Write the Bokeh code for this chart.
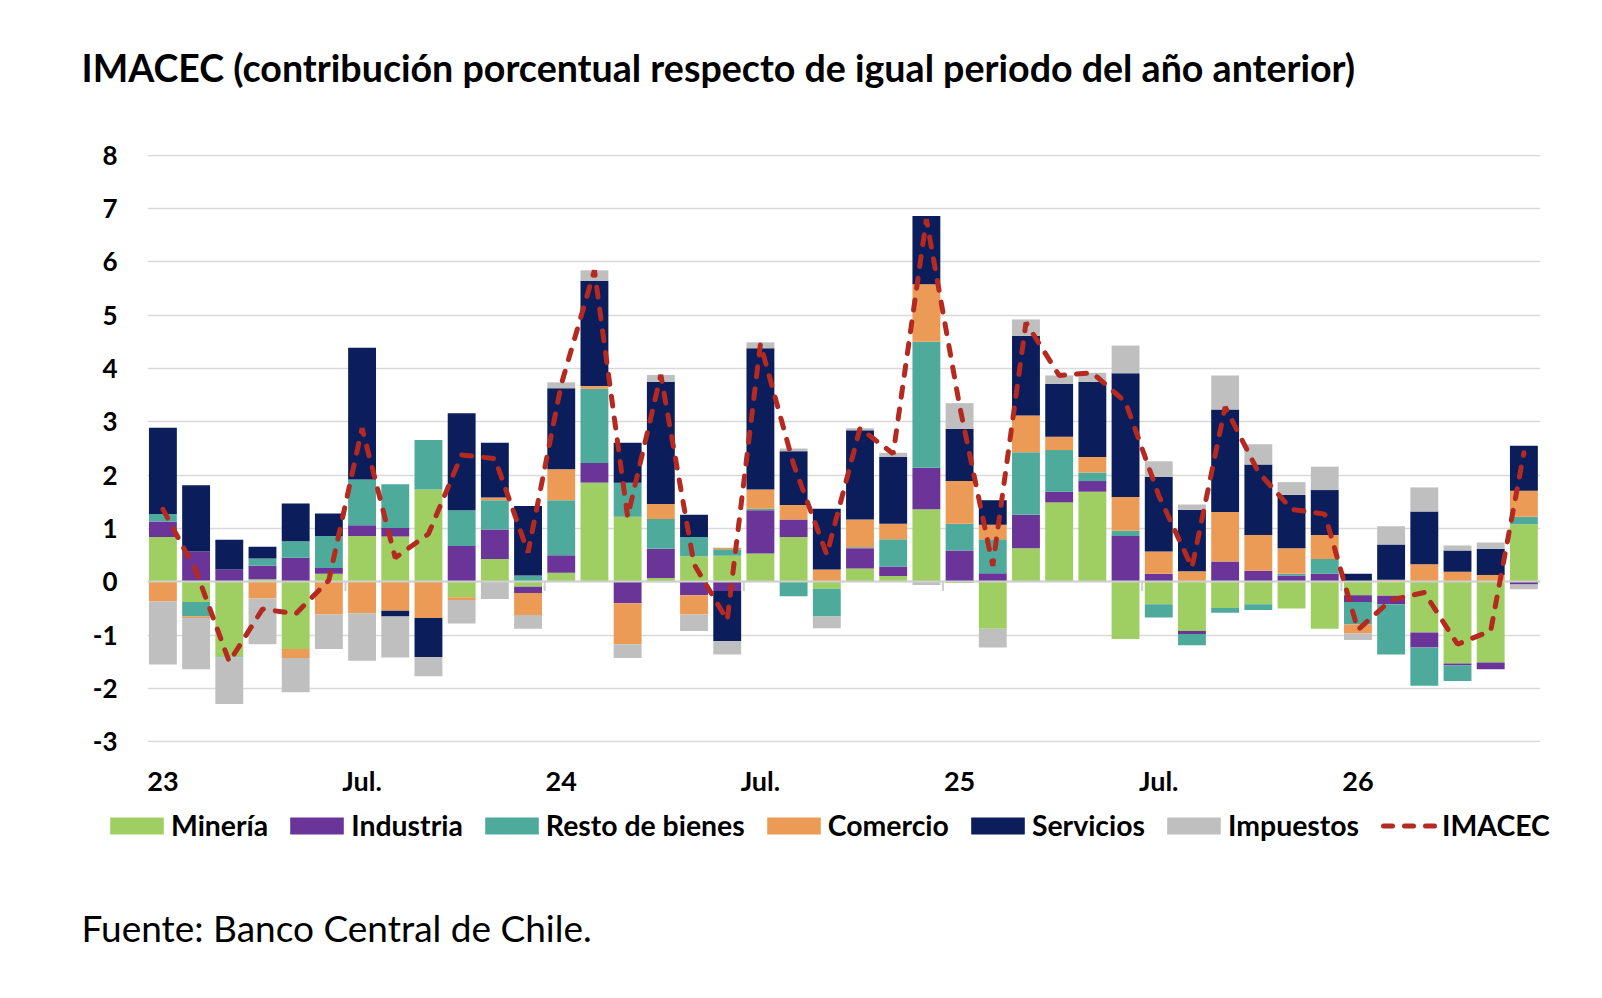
import numpy as np
from bokeh.plotting import figure
from bokeh.layouts import column
from bokeh.models import (ColumnDataSource, Legend, LegendItem, Label, Range1d, FixedTicker)
from bokeh.embed import file_html
from bokeh.resources import INLINE

# ---------------- data (contribución porcentual, pp) ----------------
months = ["ene-23", "feb-23", "mar-23", "abr-23", "may-23", "jun-23", "jul-23", "ago-23", "sep-23",
          "oct-23", "nov-23", "dic-23", "ene-24", "feb-24", "mar-24", "abr-24", "may-24", "jun-24",
          "jul-24", "ago-24", "sep-24", "oct-24", "nov-24", "dic-24", "ene-25", "feb-25", "mar-25",
          "abr-25", "may-25", "jun-25", "jul-25", "ago-25", "sep-25", "oct-25", "nov-25", "dic-25",
          "ene-26", "feb-26", "mar-26", "abr-26", "may-26", "jun-26"]

mineria = [0.84, -0.38, -1.40, 0.05, -1.26, 0.15, 0.86, 0.85, 1.73, -0.29, 0.43, -0.09, 0.17, 1.86,
           1.22, 0.07, 0.48, 0.49, 0.53, 0.84, -0.13, 0.25, 0.11, 1.36, -0.02, -0.88, 0.63, 1.49,
           1.69, -1.07, -0.42, -0.92, -0.49, -0.42, -0.50, -0.88, -0.25, -0.26, -0.95, -1.53, -1.51, 1.08]
industria = [0.29, 0.57, 0.23, 0.25, 0.45, 0.11, 0.20, 0.16, 0.00, 0.67, 0.55, -0.12, 0.33, 0.37,
             -0.40, 0.55, -0.25, -0.17, 0.81, 0.33, 0.00, 0.38, 0.18, 0.78, 0.59, 0.16, 0.63, 0.20,
             0.20, 0.86, 0.15, -0.06, 0.38, 0.21, 0.12, 0.15, -0.13, -0.16, -0.28, -0.04, -0.13, -0.05]
resto = [0.14, -0.27, -0.02, 0.14, 0.31, 0.60, 0.86, 0.82, 0.93, 0.67, 0.55, 0.12, 1.03, 1.39,
         0.64, 0.56, 0.36, 0.12, 0.03, -0.27, -0.52, 0.02, 0.51, 2.36, 0.50, 0.64, 1.17, 0.78,
         0.16, 0.10, -0.25, -0.21, -0.09, -0.11, 0.03, 0.28, -0.42, -0.94, -0.72, -0.29, 0.00, 0.14]
comercio = [-0.37, -0.03, 0.00, -0.31, -0.17, -0.61, -0.59, -0.54, -0.68, -0.05, 0.05, -0.41, 0.58, 0.05,
            -0.77, 0.28, -0.36, 0.03, 0.36, 0.27, 0.23, 0.52, 0.29, 1.08, 0.80, 0.27, 0.69, 0.25,
            0.29, 0.63, 0.42, 0.20, 0.93, 0.67, 0.48, 0.45, -0.17, 0.04, 0.33, 0.19, 0.13, 0.49]
servicios = [1.62, 1.24, 0.56, 0.22, 0.71, 0.42, 2.47, -0.11, -0.73, 1.82, 1.03, 1.30, 1.52, 1.97,
             0.75, 2.29, 0.42, -0.94, 2.65, 1.01, 1.14, 1.67, 1.25, 1.28, 0.98, 0.46, 1.49, 0.99,
             1.41, 2.32, 1.40, 1.15, 1.92, 1.32, 1.00, 0.84, 0.15, 0.66, 0.99, 0.40, 0.49, 0.84]
impuestos = [-1.18, -0.96, -0.87, -0.86, -0.64, -0.65, -0.89, -0.77, -0.36, -0.44, -0.32, -0.26, 0.11, 0.20,
             -0.26, 0.13, -0.31, -0.25, 0.11, 0.05, -0.22, 0.04, 0.08, -0.06, 0.48, -0.35, 0.31, 0.16,
             0.17, 0.52, 0.29, 0.10, 0.64, 0.38, 0.24, 0.44, -0.12, 0.34, 0.45, 0.09, 0.12, -0.09]
imacec = [1.36, 0.20, -1.50, -0.51, -0.60, 0.03, 2.88, 0.45, 0.90, 2.38, 2.31, 0.55, 3.70, 5.84,
          1.22, 3.88, 0.33, -0.72, 4.46, 2.20, 0.51, 2.88, 2.40, 6.80, 3.30, 0.30, 4.86, 3.87,
          3.92, 3.37, 1.62, 0.27, 3.28, 2.06, 1.36, 1.27, -0.90, -0.34, -0.20, -1.17, -0.92, 2.42]

series_names = ["Minería", "Industria", "Resto de bienes", "Comercio", "Servicios", "Impuestos"]
tick_index = [0, 6, 12, 18, 24, 30, 36]
tick_labels = ["23", "Jul.", "24", "Jul.", "25", "Jul.", "26"]
y_ticks = [-3, -2, -1, 0, 1, 2, 3, 4, 5, 6, 7, 8]
y_tick_labels = ["-3", "-2", "-1", "0", "1", "2", "3", "4", "5", "6", "7", "8"]
halfyear_marks = [5.5, 11.5, 17.5, 23.5, 29.5, 35.5]
title_text = "IMACEC (contribución porcentual respecto de igual periodo del año anterior)"
source_text = "Fuente: Banco Central de Chile."

# ---------------- styles ----------------
colors = ["#9FCF62", "#6A3499", "#4EAB9B", "#EC9B57", "#0B1D5B", "#BFBFBF"]
line_color = "#B42A20"
grid_color = "#D9D9D9"
FONT = "Lato"
W = 1586
H_HEAD = 120
H_CHART = 680
H_FOOT = 182
DASH = "10 12"


def blank_figure(height, x_range=(0, 1), y_range=(0, 1)):
    fig = figure(width=W, height=height, output_backend="svg", toolbar_location=None,
                 x_range=Range1d(*x_range), y_range=Range1d(*y_range),
                 x_axis_type=None, y_axis_type=None, frame_align=False,
                 min_border_left=0, min_border_right=0, min_border_top=0, min_border_bottom=0)
    fig.outline_line_color = None
    fig.xgrid.visible = False
    fig.ygrid.visible = False
    fig.border_fill_color = "white"
    fig.background_fill_color = "white"
    return fig


x = np.arange(len(months))

# ---------------- header: title ----------------
h = blank_figure(H_HEAD)
h.add_layout(Label(x=81, y=53.5, x_units="screen", y_units="screen", text=title_text,
                   text_font=FONT, text_font_style="bold", text_font_size="37.6px",
                   text_color="black", text_baseline="middle", text_align="left"))

# ---------------- chart ----------------
p = figure(width=W, height=H_CHART, output_backend="svg", toolbar_location=None,
           x_range=Range1d(-0.464, 41.5), y_range=Range1d(-3.012, 8.012), frame_align=False,
           min_border_left=147, min_border_right=46, min_border_top=34, min_border_bottom=58)
p.outline_line_color = None
p.background_fill_color = "white"
p.border_fill_color = "white"

p.xgrid.grid_line_color = None
p.ygrid.grid_line_color = grid_color
p.ygrid.grid_line_width = 1.5
p.ygrid.ticker = FixedTicker(ticks=y_ticks)

p.yaxis.ticker = FixedTicker(ticks=y_ticks)
p.yaxis.major_label_overrides = {t: s for t, s in zip(y_ticks, y_tick_labels)}
p.yaxis.axis_line_color = None
p.yaxis.major_tick_line_color = None
p.yaxis.minor_tick_line_color = None
p.yaxis.major_tick_out = 0
p.yaxis.major_label_standoff = 30
p.yaxis.major_label_text_font = FONT
p.yaxis.major_label_text_font_style = "bold"
p.yaxis.major_label_text_font_size = "26px"
p.yaxis.major_label_text_color = "black"

p.xaxis.ticker = FixedTicker(ticks=tick_index)
p.xaxis.major_label_overrides = {i: t for i, t in zip(tick_index, tick_labels)}
p.xaxis.axis_line_color = None
p.xaxis.major_tick_line_color = None
p.xaxis.minor_tick_line_color = None
p.xaxis.major_tick_out = 0
p.xaxis.major_label_standoff = 21
p.xaxis.major_label_text_font = FONT
p.xaxis.major_label_text_font_style = "bold"
p.xaxis.major_label_text_font_size = "27px"
p.xaxis.major_label_text_color = "black"

# stacked bars (positive and negative parts stacked separately)
pos_base = np.zeros(len(x))
neg_base = np.zeros(len(x))
bar_sources = []
for name, vals, col in zip(series_names,
                           [mineria, industria, resto, comercio, servicios, impuestos], colors):
    v = np.array(vals, dtype=float)
    bottom = np.where(v >= 0, pos_base, neg_base)
    top = bottom + v
    pos_base = np.where(v >= 0, top, pos_base)
    neg_base = np.where(v < 0, top, neg_base)
    src = ColumnDataSource(dict(x=x, bottom=bottom, top=top, month=months))
    bar_sources.append(src)
    p.vbar(x="x", bottom="bottom", top="top", width=0.84, source=src,
           fill_color=col, line_color=None)

# horizontal axis line at zero and half-year tick marks
p.hspan(y=[0], line_color="#CFCFCF", line_width=2)
p.segment(x0=halfyear_marks, x1=halfyear_marks, y0=[0] * len(halfyear_marks),
          y1=[-0.17] * len(halfyear_marks), line_color="#CFCFCF", line_width=2)

# IMACEC line
line_src = ColumnDataSource(dict(x=x, y=imacec, month=months))
p.line("x", "y", source=line_src, line_color=line_color, line_width=5, line_dash=DASH,
       line_cap="round")

# ---------------- footer: legend and source ----------------
# (same data sources; the footer's ranges keep the marks out of view, only the legend shows)
f = blank_figure(H_FOOT, x_range=(0, 1), y_range=(100, 101))
swatches = []
for src, col in zip(bar_sources, colors):
    swatches.append(f.vbar(x="x", bottom="bottom", top="top", width=0.84, source=src,
                           fill_color=col, line_color=None))
swatches.append(f.line("x", "y", source=line_src, line_color=line_color, line_width=5,
                       line_dash="9 12", line_dash_offset=12, line_cap="round"))
items = [LegendItem(label=n, renderers=[r]) for n, r in zip(series_names + ["IMACEC"], swatches)]
legend = Legend(items=items, location=(103, 140), orientation="horizontal",
                padding=0, margin=0, spacing=15,
                border_line_color=None, background_fill_alpha=0,
                glyph_width=67, glyph_height=21, label_height=21, label_standoff=1,
                label_text_font=FONT, label_text_font_style="bold",
                label_text_font_size="28.4px", label_text_color="black")
f.add_layout(legend)

f.add_layout(Label(x=81, y=55, x_units="screen", y_units="screen", text=source_text,
                   text_font=FONT, text_font_style="normal", text_font_size="37px",
                   text_color="black", text_baseline="middle", text_align="left"))

layout = column(h, p, f, spacing=0)
open("out.html", "w").write(file_html(layout, INLINE))
